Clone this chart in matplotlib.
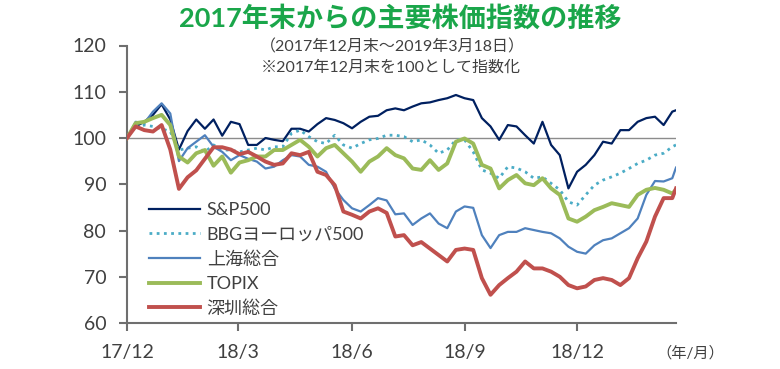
import matplotlib
matplotlib.use('Agg')
import matplotlib.pyplot as plt
import pandas as pd

# weekly sample dates (Fridays) plus the final day
dates = list(pd.date_range('2017-12-29', '2019-03-15', freq='W-FRI')) + [pd.Timestamp('2019-03-18')]

sp500 = [100, 102.5, 103.5, 105, 107.3, 104, 97.5, 101.5, 104, 102, 104, 100.5, 103.5, 103, 98.5, 98.5,
         100, 99.6, 99.3, 102, 102, 101.4, 103, 104.3, 103.9, 103.2, 102.1, 103.5, 104.6, 104.8, 106,
         106.4, 106, 106.8, 107.5, 107.7, 108.2, 108.6, 109.3, 108.6, 108.2, 104.3, 102.5, 99.6, 102.8,
         102.5, 100.6, 98.8, 103.5, 98.5, 96.3, 89.1, 92.7, 94.2, 96.3, 99.2, 98.8, 101.7, 101.7, 103.5,
         104.3, 104.6, 102.8, 105.7, 106]
europe = [100, 102.5, 102.8, 102.5, 102, 101.4, 97.4, 97.8, 98.1, 97, 98.5, 97.4, 97.4, 97, 97.4, 97.8,
          97.4, 98.1, 98.1, 101, 101.7, 100.3, 99.2, 98.8, 100.6, 98.5, 97.8, 98.8, 99.6, 99.9, 100.6,
          100.6, 100.3, 99.2, 99.6, 98.5, 96.7, 97.4, 99.6, 99.6, 97, 93.1, 92.4, 91.3, 93.8, 93.5, 92.7,
          91.3, 91.6, 90.2, 88.8, 86.2, 85.5, 87.7, 89.8, 90.9, 91.6, 92.4, 93.4, 94.5, 95.2, 96.3, 96.7,
          98.1, 98.5]
shanghai = [100, 103.5, 103.2, 105.7, 107.5, 105.3, 95, 97.8, 99.2, 100.6, 98.1, 97, 95.2, 96.3, 95.5,
            94.9, 93.4, 93.8, 95.2, 96.3, 96, 94.2, 93.8, 92.7, 89.1, 86.6, 84.8, 84.1, 85.5, 87, 86.5,
            83.5, 83.7, 81.2, 82.6, 83.7, 81.5, 80.5, 84.1, 85.2, 84.9, 79, 76.2, 79, 79.7, 79.7, 80.5,
            80.1, 79.7, 79.4, 78.3, 76.5, 75.4, 75, 76.8, 77.9, 78.3, 79.4, 80.5, 82.6, 87.7, 90.7, 90.6,
            91.3, 93.6]
topix = [100, 103.2, 103.5, 104.3, 105, 102.8, 96, 94.7, 96.7, 97.4, 94, 96, 92.5, 94.7, 95.2, 96,
         96, 97.4, 97.4, 98.5, 99.6, 98.1, 96, 97.8, 98.5, 96.7, 94.9, 92.7, 94.9, 96, 97.8, 96.3, 95.6,
         93.4, 93.1, 95.2, 93.1, 94.5, 99.2, 99.9, 98.8, 94.2, 93.4, 89.1, 90.9, 92, 90.2, 89.8, 91.3,
         89.1, 87.7, 82.6, 81.9, 83, 84.4, 85.1, 85.9, 85.5, 85.1, 87.7, 88.8, 89.2, 88.8, 88, 88.8]
shenzhen = [100, 102.5, 101.7, 101.4, 102.8, 97.5, 89, 91.5, 93, 95.5, 98, 98, 97.5, 96.5, 97, 96,
            94.9, 94.2, 94.5, 96.7, 96.3, 97, 92.7, 92, 89.8, 84.1, 83.4, 82.6, 84.1, 84.8, 83.8, 78.7,
            79, 76.8, 77.5, 76.1, 74.7, 73.3, 75.8, 76.1, 75.8, 69.7, 66.1, 68.2, 69.7, 71.1, 73.3, 71.8,
            71.8, 71.1, 70, 68.2, 67.5, 67.9, 69.3, 69.7, 69.3, 68.2, 69.7, 74, 77.6, 83, 87, 87, 89.1]

labels = ['S&P500', 'BBGヨーロッパ500', '上海総合', 'TOPIX', '深圳総合']
tick_dates = ['2017-12-29', '2018-03-29', '2018-06-29', '2018-09-28', '2018-12-28']
tick_labels = ['17/12', '18/3', '18/6', '18/9', '18/12']
yticks = [60, 70, 80, 90, 100, 110, 120]

FONT = ['Lato', 'Noto Sans CJK JP', 'DejaVu Sans']
plt.rcParams['font.family'] = FONT

fig = plt.figure(figsize=(7.8, 3.69), dpi=100)
ax = fig.add_axes([127/780, 1-323/369, (676-127)/780, (323-45.5)/369])

ax.axhline(100, color='#8c8c8c', lw=1.0, zorder=1)
ax.plot(dates, sp500, color='#002060', lw=1.6, label=labels[0], zorder=3)
ax.plot(dates, europe, color='#4bacc6', lw=2.0, ls=(0, (1, 1.6)), label=labels[1], zorder=3)
ax.plot(dates, shanghai, color='#4f81bd', lw=1.6, label=labels[2], zorder=3)
ax.plot(dates, topix, color='#9bbb59', lw=2.8, label=labels[3], zorder=3)
ax.plot(dates, shenzhen, color='#c0504d', lw=2.8, label=labels[4], zorder=4)

ax.set_xlim(pd.Timestamp('2017-12-29'), pd.Timestamp('2019-03-18'))
ax.set_ylim(60, 120)
ax.set_yticks(yticks)
ax.set_xticks([pd.Timestamp(d) for d in tick_dates])
ax.set_xticklabels(tick_labels)

for s in ['top', 'right']:
    ax.spines[s].set_visible(False)
for s in ['left', 'bottom']:
    ax.spines[s].set_color('#6f6f6f')
    ax.spines[s].set_linewidth(1.5)
ax.tick_params(axis='both', colors='#6f6f6f', width=1.5, length=6, labelsize=14,
               labelcolor='#404040', pad=9)

leg = ax.legend(loc='upper left', bbox_to_anchor=(0.04, 0.435), frameon=False,
                fontsize=13, handlelength=2.85, labelspacing=0.46, handletextpad=0.35,
                borderaxespad=0, borderpad=0)
for t in leg.get_texts():
    t.set_color('#404040')

fig.text(0.513, 0.952, '2017年末からの主要株価指数の推移', ha='center', va='center',
         fontsize=19.5, fontweight='bold', color='#1aa64a')
fig.text(0.503, 0.873, '（2017年12月末～2019年3月18日）', ha='center', va='center',
         fontsize=11.5, color='#404040')
fig.text(0.501, 0.818, '※2017年12月末を100として指数化', ha='center', va='center',
         fontsize=11.5, color='#404040')
fig.text(0.885, 0.042, '（年/月）', ha='center', va='center', fontsize=11, color='#404040')

fig.savefig('out.png', dpi=100)
